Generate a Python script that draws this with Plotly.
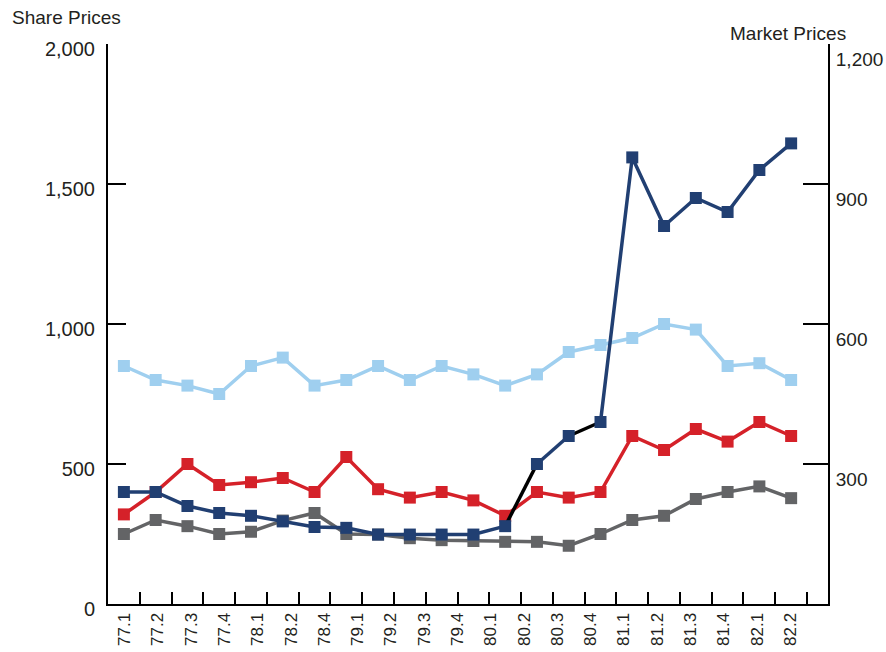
import plotly.graph_objects as go

# Category labels shown on the axis (21 labels, 78.3 absent)
labels = ["77.1", "77.2", "77.3", "77.4", "78.1", "78.2", "78.4", "79.1", "79.2",
          "79.3", "79.4", "80.1", "80.2", "80.3", "80.4", "81.1", "81.2", "81.3",
          "81.4", "82.1", "82.2"]

# 22 observation slots
n_points = 22

dark_blue = [400, 400, 350, 325, 315, 295, 275, 272, 248, 248, 248, 248, 278,
             500, 600, 650, 1595, 1350, 1450, 1400, 1550, 1645]
light_blue = [850, 800, 780, 750, 850, 880, 780, 800, 850, 800, 850, 820, 780,
              820, 900, 925, 950, 1000, 980, 850, 860, 800]
red = [320, 400, 500, 425, 435, 450, 400, 525, 410, 380, 400, 370, 315, 400,
       380, 400, 600, 550, 625, 580, 650, 600]
gray = [250, 300, 278, 250, 258, 298, 325, 250, 248, 235, 228, 225, 222, 222,
        208, 250, 300, 315, 375, 400, 420, 378]

# segments of the dark blue series drawn in black (start index of each segment)
black_segments = [12, 14]

left_ticks = [0, 500, 1000, 1500, 2000]
left_ticktext = ["0", "500", "1,000", "1,500", "2,000"]
right_ticks = [300, 600, 900, 1200]
right_ticktext = ["300", "600", "900", "1,200"]

C_DARK = "#213f72"
C_LIGHT = "#9fcfef"
C_RED = "#d52129"
C_GRAY = "#636466"
FONT = "Liberation Sans Narrow, Arial Narrow, Liberation Sans, Arial"
TXT = "#231f20"

xs = list(range(n_points))

fig = go.Figure()


def add_series(values, color):
    fig.add_trace(go.Scatter(
        x=xs, y=values, mode="lines+markers",
        line=dict(color=color, width=3.5),
        marker=dict(symbol="square", size=12, color=color),
        showlegend=False, hoverinfo="skip"))


add_series(light_blue, C_LIGHT)
add_series(gray, C_GRAY)
add_series(red, C_RED)

# black connecting segments
bx, by = [], []
for s in black_segments:
    bx += [s, s + 1, None]
    by += [dark_blue[s], dark_blue[s + 1], None]
fig.add_trace(go.Scatter(x=bx, y=by, mode="lines",
                         line=dict(color="black", width=3.5),
                         showlegend=False, hoverinfo="skip"))

# dark blue with gaps where black segments are
dx, dy = [], []
for i in range(n_points):
    dx.append(i)
    dy.append(dark_blue[i])
    if i in black_segments:
        dx.append(None)
        dy.append(None)
fig.add_trace(go.Scatter(x=dx, y=dy, mode="lines+markers",
                         line=dict(color=C_DARK, width=3.5),
                         marker=dict(symbol="square", size=12, color=C_DARK),
                         showlegend=False, hoverinfo="skip"))

# invisible trace on right axis so it renders
fig.add_trace(go.Scatter(x=[0], y=[0], yaxis="y2", mode="markers",
                         marker=dict(opacity=0), showlegend=False,
                         hoverinfo="skip"))

# label positions: 21 labels spread evenly across the 22 slots
span = n_points
label_pos = [-0.5 + span / len(labels) * (i + 0.5) for i in range(len(labels))]
boundaries = [i + 0.5 for i in range(n_points)]

fig.update_layout(
    width=886, height=652,
    margin=dict(l=108, r=58, t=44, b=48),
    paper_bgcolor="white", plot_bgcolor="white",
    font=dict(family=FONT, size=20, color=TXT),
    xaxis=dict(
        range=[-0.5, 22.16], showgrid=False, zeroline=False, automargin=False,
        showline=True, linecolor="black", linewidth=2,
        tickmode="array", tickvals=label_pos, ticktext=labels,
        ticks="", tickangle=-90, ticklabelstandoff=0,
        tickfont=dict(size=17),
        minor=dict(tickmode="array", tickvals=boundaries, ticks="inside",
                   ticklen=12, tickwidth=2, tickcolor="black", showgrid=False),
    ),
    yaxis=dict(
        range=[0, 2000], showgrid=False, zeroline=False, automargin=False,
        showline=True, linecolor="black", linewidth=2,
        tickmode="array", tickvals=left_ticks, ticktext=left_ticktext,
        ticks="inside", ticklen=18, tickwidth=2, tickcolor="black",
        ticklabelshift=5, ticklabelstandoff=7,
    ),
    yaxis2=dict(
        range=[0, 1200], overlaying="y", side="right", anchor="x",
        showgrid=False, zeroline=False, automargin=False,
        showline=True, linecolor="black", linewidth=2,
        tickmode="array", tickvals=right_ticks, ticktext=right_ticktext,
        ticks="inside", ticklen=25, tickwidth=2, tickcolor="black",
        ticklabelshift=15, ticklabelstandoff=2,
        tickfont=dict(size=19),
    ),
    annotations=[
        dict(text="Share Prices", xref="paper", yref="paper",
             x=-98 / 720, y=(604 - 18) / 560, xanchor="left", yanchor="middle",
             showarrow=False, font=dict(family=FONT, size=19, color=TXT)),
        dict(text="Market Prices", xref="paper", yref="paper",
             x=(728 - 108) / 720, y=(604 - 33) / 560, xanchor="left",
             yanchor="middle", showarrow=False,
             font=dict(family=FONT, size=19, color=TXT)),
    ],
)

fig.write_html("out.html",
               config={"displayModeBar": False},
               post_script="document.body.style.margin='0';")
